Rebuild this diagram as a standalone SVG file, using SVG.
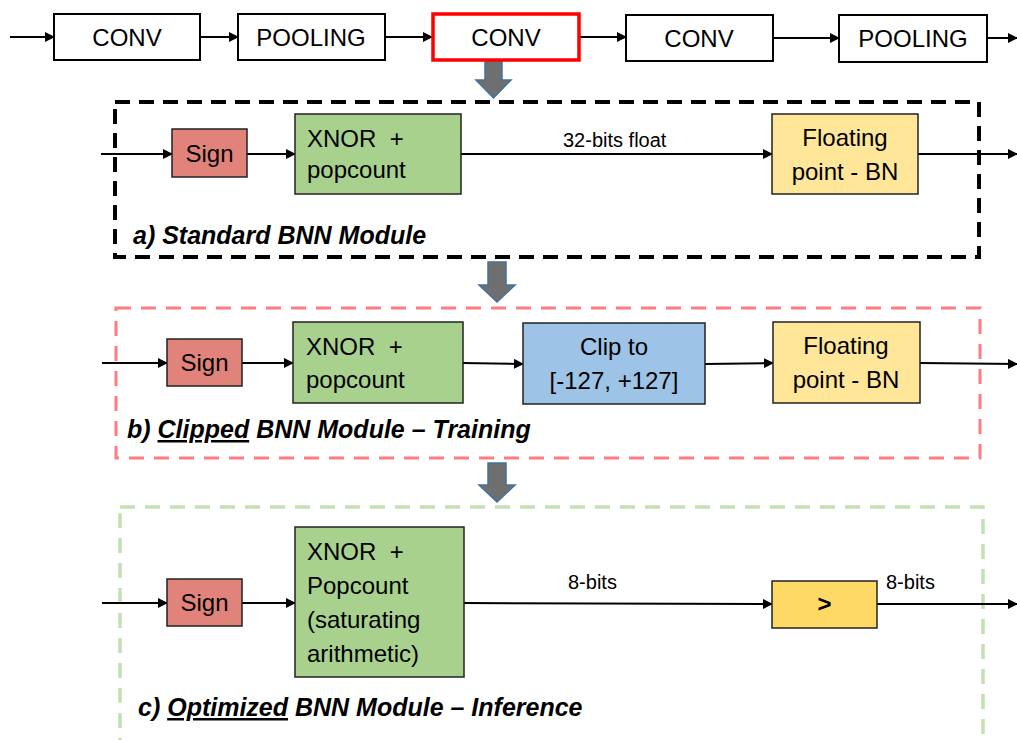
<svg xmlns="http://www.w3.org/2000/svg" width="1017" height="740" viewBox="0 0 1017 740">
<style>
text{font-family:"Liberation Sans",Arial,sans-serif;fill:#000}
.t24{font-size:24px}
.t20{font-size:20px}
.lab{font-size:25px;font-weight:bold;font-style:italic}
.plain{fill:#fff;stroke:#000;stroke-width:2}
.col{stroke:#222;stroke-width:1.5}
.conn{stroke:#000;stroke-width:2;fill:none;marker-end:url(#ah)}
.blk{fill:#6f6f6f;stroke:#41719c;stroke-width:1.5}
.u{text-decoration:underline}
</style>
<defs>
<marker id="ah" viewBox="0 0 10 10" refX="9" refY="5" markerWidth="5" markerHeight="5" orient="auto" markerUnits="strokeWidth">
<path d="M0,0 L10,5 L0,10 z" fill="#000"/>
</marker>
</defs>
<rect width="1017" height="740" fill="#fff"/>

<!-- containers -->
<g id="moduleA">
<rect x="115" y="102" width="864" height="155" fill="none" stroke="#000" stroke-width="4" stroke-dasharray="15 9"/>
<text class="lab" x="133" y="244">a) Standard BNN Module</text>
</g>
<g id="moduleB">
<rect x="116" y="308" width="864" height="150" fill="none" stroke="#ff7c80" stroke-width="3" stroke-dasharray="15 10"/>
<text class="lab" x="127" y="438">b) <tspan class="u">Clipped</tspan> BNN Module – Training</text>
</g>
<g id="moduleC">
<rect x="120" y="507" width="863" height="260" fill="none" stroke="#c5e0b4" stroke-width="3.5" stroke-dasharray="15 10"/>
<text class="lab" x="138" y="716">c) <tspan class="u">Optimized</tspan> BNN Module – Inference</text>
</g>

<!-- connectors -->
<g id="connectors">
<line class="conn" x1="10" y1="37" x2="54" y2="37"/>
<line class="conn" x1="200" y1="37" x2="238" y2="37"/>
<line class="conn" x1="385" y1="37" x2="432" y2="37"/>
<line class="conn" x1="580" y1="37" x2="626" y2="37"/>
<line class="conn" x1="773" y1="38" x2="839" y2="38"/>
<line class="conn" x1="987" y1="38" x2="1017" y2="38"/>

<line class="conn" x1="101" y1="154" x2="172" y2="154"/>
<line class="conn" x1="247" y1="154" x2="295" y2="154"/>
<line class="conn" x1="461" y1="154" x2="772" y2="154"/>
<line class="conn" x1="918" y1="154" x2="1017" y2="154"/>

<line class="conn" x1="102" y1="363" x2="167" y2="363"/>
<line class="conn" x1="242" y1="363" x2="293" y2="363"/>
<line class="conn" x1="463" y1="363" x2="523" y2="364"/>
<line class="conn" x1="705" y1="364" x2="773" y2="363"/>
<line class="conn" x1="920" y1="363" x2="1017" y2="364"/>

<line class="conn" x1="102" y1="603" x2="167" y2="603"/>
<line class="conn" x1="242" y1="603" x2="295" y2="603"/>
<line class="conn" x1="464" y1="603" x2="772" y2="604"/>
<line class="conn" x1="877" y1="604" x2="1017" y2="604"/>

<text class="t20" x="563" y="147">32-bits float</text>
<text class="t20" x="568" y="589">8-bits</text>
<text class="t20" x="886" y="589">8-bits</text>

<path class="blk" d="M485,61 L502,61 L502,80 L511,80 L493.5,98 L476,80 L485,80 z"/>
<path class="blk" d="M488,262 L506,262 L506,285 L515,285 L497,302 L479,285 L488,285 z"/>
<path class="blk" d="M488,463 L506,463 L506,485 L515,485 L497,502 L479,485 L488,485 z"/>
</g>

<!-- top row -->
<g id="conv1"><rect class="plain" x="54" y="14" width="146" height="46"/><text class="t24" x="127" y="46" text-anchor="middle">CONV</text></g>
<g id="pool1"><rect class="plain" x="238" y="14" width="147" height="46"/><text class="t24" x="311" y="46" text-anchor="middle">POOLING</text></g>
<g id="conv2"><rect x="433" y="14" width="146" height="46" fill="#fff" stroke="#ff0000" stroke-width="3.5"/><text class="t24" x="506" y="46" text-anchor="middle">CONV</text></g>
<g id="conv3"><rect class="plain" x="626" y="15" width="147" height="46"/><text class="t24" x="699" y="47" text-anchor="middle">CONV</text></g>
<g id="pool2"><rect class="plain" x="839" y="15" width="148" height="47"/><text class="t24" x="913" y="47" text-anchor="middle">POOLING</text></g>

<!-- module a -->
<g id="signA"><rect class="col" x="172" y="129" width="75" height="48" fill="#e2837b"/><text class="t24" x="209.5" y="162" text-anchor="middle">Sign</text></g>
<g id="xnorA"><rect class="col" x="295" y="114" width="166" height="80" fill="#a9d18e"/><text class="t24" x="307" y="147" xml:space="preserve">XNOR  +</text><text class="t24" x="307" y="178">popcount</text></g>
<g id="bnA"><rect class="col" x="772" y="114" width="146" height="80" fill="#ffe699"/><text class="t24" x="845" y="146" text-anchor="middle">Floating</text><text class="t24" x="845" y="180" text-anchor="middle">point - BN</text></g>

<!-- module b -->
<g id="signB"><rect class="col" x="167" y="339" width="75" height="47" fill="#e2837b"/><text class="t24" x="204.5" y="371" text-anchor="middle">Sign</text></g>
<g id="xnorB"><rect class="col" x="293" y="322" width="170" height="81" fill="#a9d18e"/><text class="t24" x="306" y="355" xml:space="preserve">XNOR  +</text><text class="t24" x="306" y="388">popcount</text></g>
<g id="clipB"><rect class="col" x="523" y="323" width="182" height="81" fill="#9dc3e6"/><text class="t24" x="614" y="355" text-anchor="middle">Clip to</text><text class="t24" x="614" y="389" text-anchor="middle">[-127, +127]</text></g>
<g id="bnB"><rect class="col" x="773" y="322" width="147" height="81" fill="#ffe699"/><text class="t24" x="846" y="354" text-anchor="middle">Floating</text><text class="t24" x="846" y="388" text-anchor="middle">point - BN</text></g>

<!-- module c -->
<g id="signC"><rect class="col" x="167" y="579" width="75" height="47" fill="#e2837b"/><text class="t24" x="204.5" y="611" text-anchor="middle">Sign</text></g>
<g id="xnorC"><rect class="col" x="295" y="527" width="169" height="150" fill="#a9d18e"/><text class="t24" x="307" y="560" xml:space="preserve">XNOR  +</text><text class="t24" x="307" y="594">Popcount</text><text class="t24" x="307" y="628">(saturating</text><text class="t24" x="307" y="662">arithmetic)</text></g>
<g id="cmpC"><rect class="col" x="772" y="581" width="105" height="47" fill="#ffd966"/><text x="824.5" y="612" text-anchor="middle" style="font-size:24px;font-weight:bold">&gt;</text></g>
</svg>
